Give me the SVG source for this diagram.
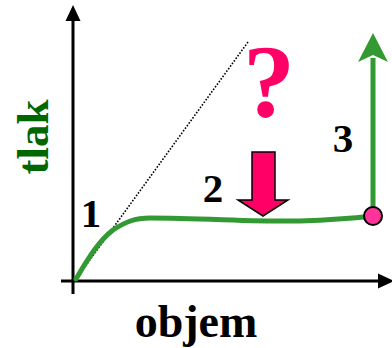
<svg xmlns="http://www.w3.org/2000/svg" width="392" height="348" viewBox="0 0 392 348">
<style>
.ax{stroke:#000;stroke-width:3;fill:none}
.lbl{font-family:'Liberation Serif','Times New Roman',Times,serif;font-weight:bold;fill:#000}
</style>
<rect width="392" height="348" fill="#fff"/>
<g id="axes">
<line class="ax" x1="73" y1="18" x2="73" y2="294"/>
<polygon points="73,5 65.5,21 80.5,21" fill="#000"/>
<line class="ax" x1="61" y1="281" x2="380" y2="281"/>
<polygon points="394,281 378,273.5 378,288.5" fill="#000"/>
</g>
<g id="connectors">
<line x1="76" y1="279" x2="248" y2="42" stroke="#000" stroke-width="1.6" stroke-dasharray="1.6,1.6"/>
<path d="M76,279 C90,255 100,240 113,230 C125,222 135,218 150,218 C200,218 260,222 300,221 C330,220 355,218 373,216" fill="none" stroke="#339933" stroke-width="5" stroke-linecap="round"/>
<line x1="373" y1="216" x2="373" y2="58" stroke="#339933" stroke-width="5"/>
<polygon points="373,33 358,62 373,55 388,62" fill="#339933"/>
</g>
<g id="point">
<circle cx="373" cy="216" r="9" fill="#FF3399" stroke="#000" stroke-width="2"/>
</g>
<g id="downarrow">
<polygon points="252,152 275,152 275,200 288,200 263,216 238,200 252,200" fill="#FF0066" stroke="#000" stroke-width="1.5"/>
</g>
<g id="labels">
<text class="lbl" x="0" y="0" font-size="45" style="fill:#006600" text-anchor="middle" transform="translate(48,137) rotate(-90)">tlak</text>
<text class="lbl" x="196" y="337" font-size="46" text-anchor="middle">objem</text>
<text class="lbl" x="91" y="227" font-size="41" text-anchor="middle">1</text>
<text class="lbl" x="213" y="202" font-size="41" text-anchor="middle">2</text>
<text class="lbl" x="343" y="152" font-size="41" text-anchor="middle">3</text>
<text class="lbl" x="269" y="117" font-size="104" style="fill:#FF0066" text-anchor="middle">?</text>
</g>
</svg>
